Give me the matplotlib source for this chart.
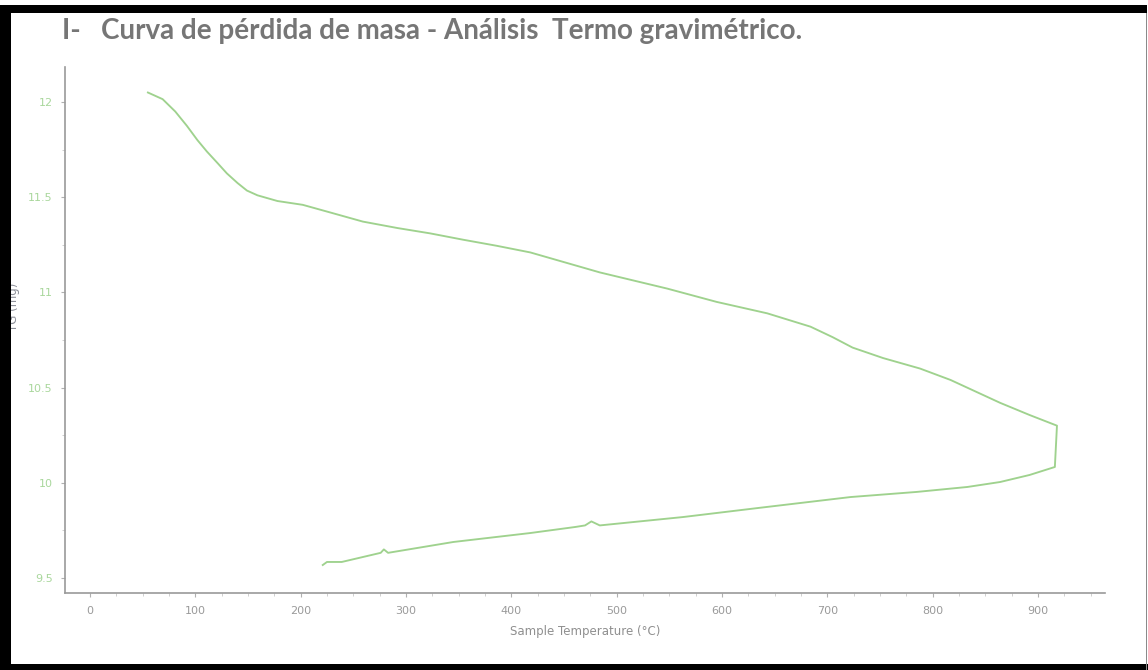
import matplotlib
matplotlib.use("Agg")
import matplotlib.pyplot as plt
from matplotlib.patches import Rectangle
from matplotlib.ticker import MultipleLocator

# TGA run: heating branch then cooling branch, in acquisition order
temp_c = [55, 69, 81, 92, 102, 111, 121, 130, 140, 149, 159, 178, 202, 228, 259,
          292, 323, 354, 386, 418, 484, 548, 595, 643, 684, 705, 724, 753, 788,
          817, 864, 892, 918, 916, 892, 864, 833, 785, 722, 635, 563, 484, 476,
          470, 461, 418, 345, 283, 279, 276, 239, 225, 221]
mass_mg = [12.05, 12.015, 11.95, 11.875, 11.80, 11.74, 11.68, 11.625, 11.575,
           11.535, 11.51, 11.48, 11.46, 11.42, 11.372, 11.338, 11.31, 11.277,
           11.245, 11.21, 11.105, 11.02, 10.95, 10.89, 10.82, 10.765, 10.71,
           10.655, 10.60, 10.54, 10.42, 10.356, 10.30, 10.083, 10.041, 10.004,
           9.978, 9.952, 9.925, 9.868, 9.82, 9.776, 9.797, 9.776, 9.768, 9.736,
           9.689, 9.632, 9.650, 9.632, 9.584, 9.584, 9.568]

x_ticks = [0, 100, 200, 300, 400, 500, 600, 700, 800, 900]
y_ticks = [9.5, 10, 10.5, 11, 11.5, 12]
y_tick_labels = ["9.5", "10", "10.5", "11", "11.5", "12"]

title_text = "I-   Curva de pérdida de masa - Análisis  Termo gravimétrico."
x_label = "Sample Temperature (°C)"
y_label = "TG (mg)"

W, H = 1148, 670
fig = plt.figure(figsize=(W / 100, H / 100), dpi=100)
fig.patch.set_facecolor("white")

ax = fig.add_axes([65 / W, 1 - 593 / H, (1105 - 65) / W, (593 - 67) / H])
ax.plot(temp_c, mass_mg, color="#9fd28e", lw=1.35, solid_joinstyle="round")

ax.set_xlim(-23.7, 963.6)
ax.set_ylim(9.421, 12.184)

for s in ("top", "right"):
    ax.spines[s].set_visible(False)
for s in ("left", "bottom"):
    ax.spines[s].set_color("#9a9a9a")
    ax.spines[s].set_linewidth(1.2)

ax.set_xticks(x_ticks)
ax.set_yticks(y_ticks)
ax.set_yticklabels(y_tick_labels)
ax.xaxis.set_minor_locator(MultipleLocator(25))
ax.yaxis.set_minor_locator(MultipleLocator(0.25))
ax.tick_params(axis="both", which="major", length=3, width=0.8, color="#b0b0b0",
               labelsize=8)
ax.tick_params(axis="both", which="minor", length=2, width=0.6, color="#c8c8c8")
ax.tick_params(axis="x", labelcolor="#9a9a9a", pad=6)
ax.tick_params(axis="y", labelcolor="#a9d79c", pad=6)

fig.text(585 / W, 1 - 632 / H, x_label, ha="center", va="center",
         fontsize=8.5, color="#8f8f8f")
fig.text(14 / W, 1 - 307 / H, y_label, ha="center", va="center",
         rotation=90, fontsize=8.5, color="#8c8f98")

# Heading above the chart, scaled to its printed width
title = fig.text(62 / W, 1 - 31 / H, title_text, ha="left", va="center",
                 fontsize=15, fontweight="bold", family="Lato", color="#767676")
fig.canvas.draw()
w_now = title.get_window_extent().width
title.set_fontsize(15 * (805 - 62) / w_now)

# Black page frame
frame_kw = dict(transform=fig.transFigure, figure=fig, zorder=10, lw=0)
fig.patches.extend([
    Rectangle((0, 1 - 13 / H), 1147 / W, 8 / H, color="black", **frame_kw),
    Rectangle((0, 0), 11 / W, 1 - 5 / H, color="black", **frame_kw),
    Rectangle((0, 0), 1, 6 / H, color="black", **frame_kw),
    Rectangle((1145.5 / W, 0), 1.2 / W, 1 - 13 / H, color="#8a8a8a", **frame_kw),
])

fig.savefig("out.png", dpi=100)
